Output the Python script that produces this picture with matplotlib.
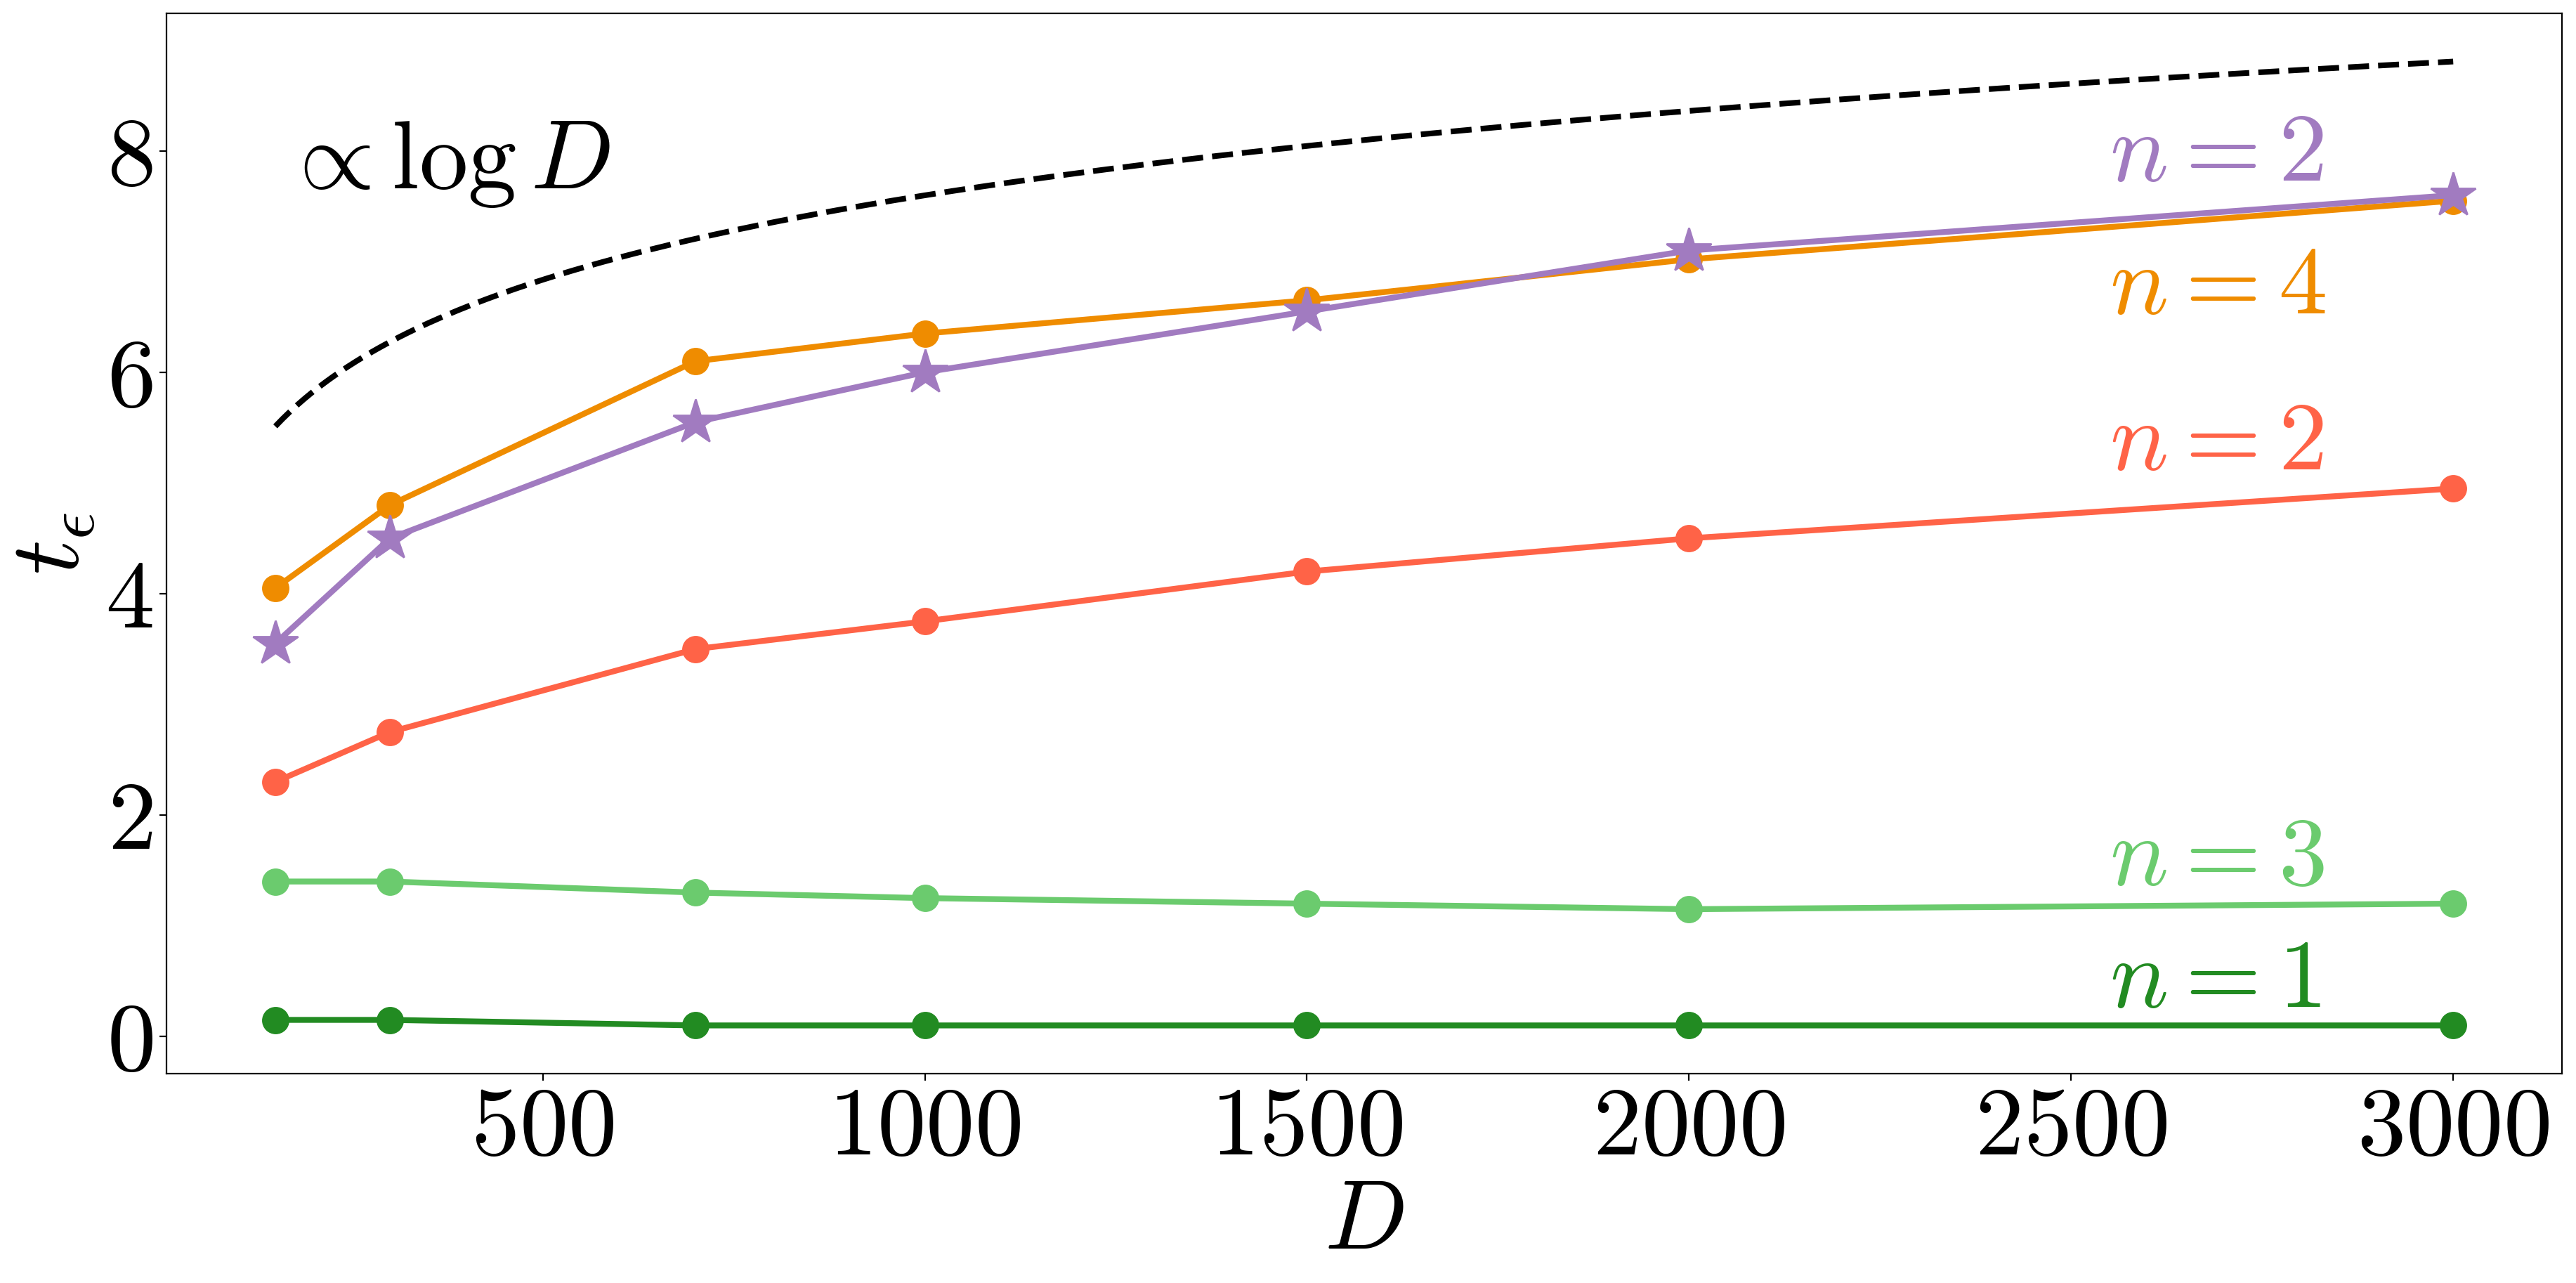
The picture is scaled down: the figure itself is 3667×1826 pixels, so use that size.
import numpy as np
import matplotlib
matplotlib.use('Agg')
import matplotlib.pyplot as plt
from matplotlib.ticker import FuncFormatter

plt.rcParams['mathtext.fontset'] = 'cm'
plt.rcParams['font.family'] = 'serif'
plt.rcParams['font.serif'] = ['cmr10', 'DejaVu Serif']

# data
D = [150, 300, 700, 1000, 1500, 2000, 3000]
t_n1 = [0.15, 0.15, 0.10, 0.10, 0.10, 0.10, 0.10]
t_n3 = [1.40, 1.40, 1.30, 1.25, 1.20, 1.15, 1.20]
t_n2 = [2.30, 2.75, 3.50, 3.75, 4.20, 4.50, 4.95]
t_n4 = [4.05, 4.80, 6.10, 6.35, 6.65, 7.02, 7.55]
t_n2_star = [3.55, 4.50, 5.55, 6.00, 6.55, 7.10, 7.60]

# guide curve, proportional to log D
log_coef = 1.1
D_guide = np.linspace(150, 3000, 300)

c_n1 = '#228B22'
c_n3 = '#6BCB6E'
c_n2 = '#FF6347'
c_n4 = '#EF8C00'
c_star = '#A17BC0'

fig = plt.figure(figsize=(18.335, 9.13), dpi=200)
ax = fig.add_axes([0.0646, 0.1632, 0.93, 0.8264])

ax.plot(D_guide, log_coef * np.log(D_guide), '--', color='black', lw=2.9)
ax.plot(D, t_n1, '-o', color=c_n1, lw=3, ms=13)
ax.plot(D, t_n3, '-o', color=c_n3, lw=3, ms=13)
ax.plot(D, t_n2, '-o', color=c_n2, lw=3, ms=13)
ax.plot(D, t_n4, '-o', color=c_n4, lw=3, ms=13)
ax.plot(D, t_n2_star, '-*', color=c_star, lw=3, ms=24)

fs = 50
ax.text(2550, 7.73, r'$n=2$', color=c_star, fontsize=fs)
ax.text(2550, 6.53, r'$n=4$', color=c_n4, fontsize=fs)
ax.text(2550, 5.12, r'$n=2$', color=c_n2, fontsize=fs)
ax.text(2550, 1.37, r'$n=3$', color=c_n3, fontsize=fs)
ax.text(2550, 0.27, r'$n=1$', color=c_n1, fontsize=fs)
ax.text(158, 7.66, r'$\propto \log D$', color='black', fontsize=fs)

ax.set_xticks([500, 1000, 1500, 2000, 2500, 3000])
ax.set_yticks([0, 2, 4, 6, 8])
ax.xaxis.set_major_formatter(FuncFormatter(lambda v, p: r'$%d$' % v))
ax.yaxis.set_major_formatter(FuncFormatter(lambda v, p: r'$%d$' % v))
ax.tick_params(labelsize=fs)

ax.set_xlabel(r'$D$', fontsize=fs, labelpad=4)
ax.set_ylabel(r'$t_\epsilon$', fontsize=fs, labelpad=4)

plt.savefig('out.png', dpi=200)
